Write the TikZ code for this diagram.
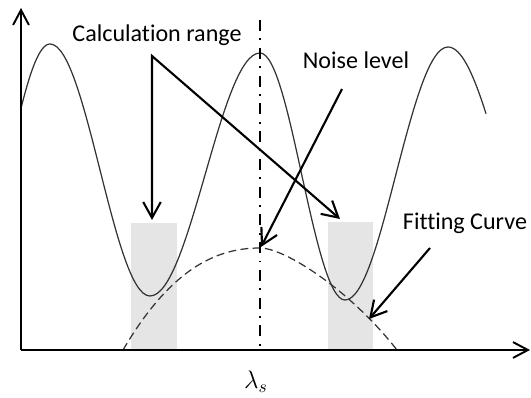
\documentclass[tikz,border=0pt]{standalone}
\usepackage{fontspec}
\setmainfont{Carlito}[Ligatures={NoCommon,NoRequired}]
\usetikzlibrary{arrows.meta}

\begin{document}
\begin{tikzpicture}[
x=0.02cm,
y=-0.02cm,
tag/.style={
font=\fontsize{13.7}{16}\selectfont,
anchor=base,
inner sep=0pt
},
axis/.style={
-{Straight Barb[length=8.5pt,width=9pt]},
line width=1.1pt
},
arrow/.style={
-{Straight Barb[length=9pt,width=10pt]},
line width=1.2pt
},
twoway/.style={
{Straight Barb[length=9pt,width=10pt]}-{Straight Barb[length=9pt,width=10pt]},
line width=1.2pt
},
rangebox/.style={
fill=black!10
},
wave/.style={
line width=0.7pt,
black!80
},
fitcurve/.style={
dash pattern=on 4.5pt off 2.5pt,
line width=0.7pt,
black!80
},
centre/.style={
dash pattern=on 6.3pt off 4.2pt on 1.1pt off 4.2pt,
line width=1.3pt
}
]

\useasboundingbox (0,0) rectangle (531,398);

\fill[rangebox] (131,223) rectangle (177,350);
\fill[rangebox] (328,222) rectangle (373,350);

\draw[wave] plot[domain=21:50,samples=20] (\x,{170-126*cos(180*(50-\x)/86)})
-- (50,44) cos (100,170) sin (150,296) cos (205,175) sin (260,53)
cos (302,176) sin (345,300) cos (396,174) sin (448,47)
-- plot[domain=448:486,samples=20] (\x,{172-125*cos(180*(\x-448)/110)});

\draw[fitcurve] (123,350) .. controls (170,270) and (215,248) .. (260,248)
.. controls (285,248) and (350,290) .. (397,350);

\coordinate (o) at (21,350);
\coordinate (ymax) at (21,8);
\coordinate (xmax) at (530,350);
\coordinate (centre top) at (260,20);
\coordinate (centre foot) at (260,350);

\draw[centre] (centre top) -- (centre foot);
\draw[axis] (o) -- (ymax);
\draw[axis] (o) -- (xmax);

\node[tag] (calc) at (157,42) {Calculation range};
\node[tag] (noise) at (356,69) {Noise level};
\node[tag] (fitting) at (465,230) {Fitting Curve};
\node[tag] (lambda) at (256,389) {$\lambda_s$};

\coordinate (calc fork) at (152,56);
\coordinate (left range) at (152,220);
\coordinate (right range) at (340,219);
\coordinate (noise start) at (342,89);
\coordinate (fit peak) at (261,247);
\coordinate (fit start) at (430,248);
\coordinate (fit slope) at (369,319);

\draw[twoway] (left range) -- (calc fork) -- (right range);
\draw[arrow] (noise start) -- (fit peak);
\draw[arrow] (fit start) -- (fit slope);

\end{tikzpicture}
\end{document}
